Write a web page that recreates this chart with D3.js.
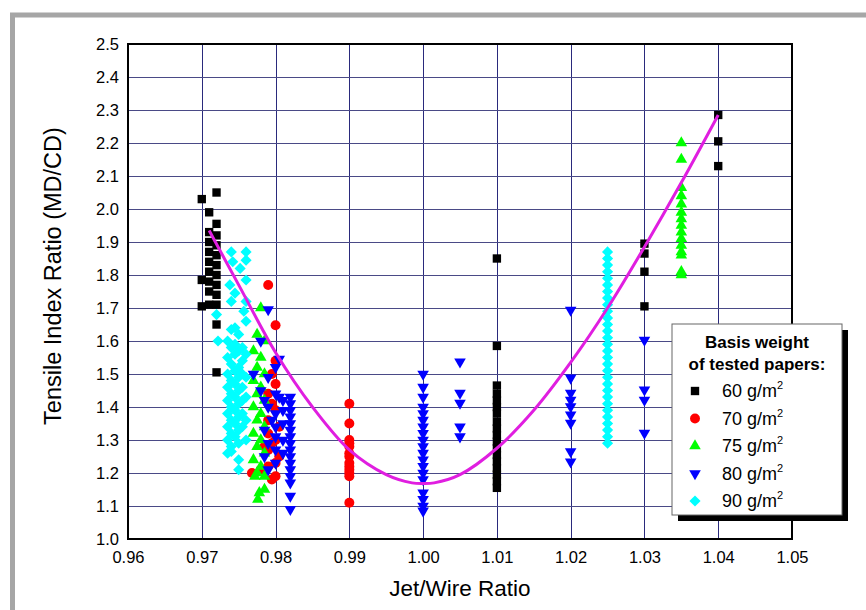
<!DOCTYPE html>
<meta charset="utf-8">
<title>Tensile Index Ratio vs Jet/Wire Ratio</title>
<style>
body { margin: 0; background: #fff; }
svg { display: block; font-family: Arial, "Liberation Sans", sans-serif; }
.grid line { shape-rendering: crispEdges; }
</style>
<svg width="866" height="610"></svg>
<script src="https://d3js.org/d3.v7.min.js"></script>
<script>
// axis ticks
var xTicks = [0.96, 0.97, 0.98, 0.99, 1.00, 1.01, 1.02, 1.03, 1.04, 1.05];
var yTicks = [1.0, 1.1, 1.2, 1.3, 1.4, 1.5, 1.6, 1.7, 1.8, 1.9, 2.0, 2.1, 2.2, 2.3, 2.4, 2.5];

// legend
var weights = ["60", "70", "75", "80", "90"];

// [jet/wire ratio, tensile index ratio]
var s60 = [
  [0.970,2.03],[0.970,1.785],[0.970,1.705],
  [0.971,1.99],[0.971,1.93],[0.971,1.90],[0.971,1.87],[0.971,1.84],[0.971,1.81],[0.971,1.78],[0.971,1.75],[0.971,1.71],
  [0.972,2.05],[0.972,1.955],[0.972,1.92],[0.972,1.89],[0.972,1.86],[0.972,1.83],[0.972,1.80],[0.972,1.77],[0.972,1.74],[0.972,1.71],[0.972,1.65],[0.972,1.505],
  [1.010,1.85],[1.010,1.585],[1.010,1.465],[1.010,1.44],[1.010,1.42],[1.010,1.40],[1.010,1.38],[1.010,1.355],[1.010,1.335],[1.010,1.315],
  [1.010,1.295],[1.010,1.275],[1.010,1.255],[1.010,1.235],[1.010,1.215],[1.010,1.195],[1.010,1.175],[1.010,1.155],
  [1.030,1.895],[1.030,1.865],[1.030,1.81],[1.030,1.705],
  [1.040,2.285],[1.040,2.205],[1.040,2.13]
];

var s70 = [
  [0.979,1.77],[0.980,1.648],[0.980,1.54],[0.9795,1.50],[0.980,1.47],[0.979,1.44],[0.9795,1.41],[0.980,1.39],[0.979,1.36],
  [0.9805,1.34],[0.979,1.32],[0.980,1.30],[0.9795,1.29],[0.979,1.27],[0.9805,1.25],[0.980,1.23],[0.979,1.22],[0.9768,1.20],
  [0.980,1.19],[0.9795,1.18],[0.978,1.21],[0.9785,1.28],
  [0.990,1.41],[0.990,1.35],[0.990,1.30],[0.990,1.29],[0.990,1.28],[0.990,1.26],[0.990,1.25],[0.990,1.23],[0.990,1.22],
  [0.990,1.21],[0.990,1.20],[0.990,1.19],[0.990,1.11]
];

var s75 = [
  [0.978,1.70],[0.9775,1.62],[0.9785,1.60],[0.977,1.57],[0.978,1.55],[0.9775,1.52],[0.9785,1.50],[0.977,1.48],[0.978,1.46],
  [0.9775,1.44],[0.9785,1.42],[0.977,1.40],[0.978,1.38],[0.9775,1.36],[0.9785,1.34],[0.977,1.32],[0.978,1.30],[0.9775,1.28],
  [0.9785,1.26],[0.977,1.24],[0.978,1.22],[0.9775,1.20],[0.9785,1.19],[0.9772,1.19],[0.9778,1.14],[0.9785,1.15],[0.9776,1.12],
  [1.035,2.20],[1.035,2.15],[1.035,2.065],[1.035,2.04],[1.035,2.015],[1.035,1.99],[1.035,1.97],[1.035,1.95],[1.035,1.93],
  [1.035,1.91],[1.035,1.89],[1.035,1.87],[1.035,1.86],[1.035,1.81],[1.035,1.80]
];

var s80 = [
  [0.979,1.695],[0.978,1.60],[0.9805,1.545],[0.980,1.52],[0.977,1.50],[0.979,1.49],[0.978,1.45],[0.980,1.44],[0.9805,1.43],
  [0.981,1.42],[0.9785,1.42],[0.979,1.40],[0.980,1.38],[0.981,1.39],[0.9795,1.36],[0.981,1.35],[0.980,1.34],[0.9785,1.33],
  [0.980,1.31],[0.981,1.30],[0.979,1.29],[0.980,1.27],[0.981,1.26],[0.9785,1.25],[0.980,1.23],[0.979,1.21],
  [0.982,1.43],[0.982,1.41],[0.982,1.39],[0.982,1.37],[0.982,1.35],[0.982,1.33],[0.982,1.31],[0.982,1.29],[0.982,1.27],
  [0.982,1.25],[0.982,1.23],[0.982,1.21],[0.982,1.19],[0.982,1.17],[0.982,1.13],[0.982,1.09],
  [1.000,1.50],[1.000,1.46],[1.000,1.43],[1.000,1.40],[1.000,1.38],[1.000,1.36],[1.000,1.34],[1.000,1.32],[1.000,1.30],
  [1.000,1.28],[1.000,1.26],[1.000,1.24],[1.000,1.22],[1.000,1.20],[1.000,1.18],[1.000,1.14],[1.000,1.12],[1.000,1.10],[1.000,1.085],
  [1.005,1.537],[1.005,1.442],[1.005,1.412],[1.005,1.34],[1.005,1.31],
  [1.020,1.694],[1.020,1.488],[1.020,1.442],[1.020,1.421],[1.020,1.401],[1.020,1.376],[1.020,1.351],[1.020,1.265],[1.020,1.234],
  [1.030,1.603],[1.030,1.452],[1.030,1.421],[1.030,1.321]
];

var s90 = [
  [0.974,1.87],[0.976,1.87],[0.9742,1.84],[0.976,1.845],[0.9752,1.82],[0.9738,1.77],[0.976,1.785],[0.9745,1.745],[0.974,1.72],
  [0.976,1.72],[0.9757,1.69],[0.972,1.68],[0.976,1.66],[0.974,1.635],[0.975,1.62],[0.9722,1.60],
  [0.9735,1.60],[0.9735,1.55],[0.9735,1.50],[0.9735,1.46],[0.9735,1.42],[0.9735,1.38],[0.9735,1.34],[0.9735,1.30],[0.9735,1.26],
  [0.974,1.58],[0.974,1.53],[0.974,1.48],[0.974,1.44],[0.974,1.40],[0.974,1.36],[0.974,1.32],[0.974,1.28],
  [0.9745,1.64],[0.9745,1.59],[0.9745,1.56],[0.9745,1.51],[0.9745,1.47],[0.9745,1.43],[0.9745,1.39],[0.9745,1.35],[0.9745,1.31],
  [0.975,1.57],[0.975,1.52],[0.975,1.49],[0.975,1.45],[0.975,1.41],[0.975,1.37],[0.975,1.33],[0.975,1.29],[0.975,1.24],
  [0.9755,1.58],[0.9755,1.54],[0.9755,1.50],[0.9755,1.46],[0.9755,1.42],[0.9755,1.38],[0.9755,1.34],
  [0.976,1.56],[0.976,1.49],[0.976,1.43],[0.976,1.36],[0.976,1.30],
  [0.974,1.265],[0.975,1.21],
  [1.025,1.87],[1.025,1.85],[1.025,1.83],[1.025,1.81],[1.025,1.79],[1.025,1.77],[1.025,1.75],[1.025,1.73],[1.025,1.71],[1.025,1.69],
  [1.025,1.67],[1.025,1.65],[1.025,1.63],[1.025,1.61],[1.025,1.59],[1.025,1.57],[1.025,1.55],[1.025,1.53],[1.025,1.51],[1.025,1.49],
  [1.025,1.47],[1.025,1.45],[1.025,1.43],[1.025,1.41],[1.025,1.39],[1.025,1.37],[1.025,1.35],[1.025,1.33],[1.025,1.31],[1.025,1.29]
];

// fitted curve
var fitCurve = [
  [0.971,1.935],[0.975,1.77],[0.980,1.565],[0.985,1.40],[0.990,1.27],[0.995,1.195],[0.9985,1.17],[1.000,1.168],
  [1.0015,1.17],[1.005,1.195],[1.010,1.275],[1.015,1.39],[1.020,1.535],[1.025,1.70],[1.030,1.885],[1.035,2.08],[1.040,2.285]
];

var svg = d3.select("svg"),
  margin = {top: 44, right: 74, bottom: 71, left: 128},
  width = +svg.attr("width") - margin.left - margin.right,
  height = +svg.attr("height") - margin.top - margin.bottom;

// grey outer frame
svg.append("rect")
  .attr("x", 12.5).attr("y", 15)
  .attr("width", 1000).attr("height", 1000)
  .attr("fill", "#fff")
  .attr("stroke", "#a6a6a6")
  .attr("stroke-width", 5);

var x = d3.scaleLinear().domain([0.96, 1.05]).range([0, width]);
var y = d3.scaleLinear().domain([1.0, 2.5]).range([height, 0]);

var g = svg.append("g").attr("transform", "translate(" + margin.left + "," + margin.top + ")");

var series = [
  {data: s60, color: "#000000", type: d3.symbolSquare, size: 70, rotate: 0},
  {data: s70, color: "#ff0000", type: d3.symbolCircle, size: 78, rotate: 0},
  {data: s75, color: "#00ff00", type: d3.symbolTriangle, size: 58, rotate: 0},
  {data: s80, color: "#0000ff", type: d3.symbolTriangle, size: 58, rotate: 180},
  {data: s90, color: "#00ffff", type: d3.symbolSquare, size: 62, rotate: 45}
];

g.append("g")
  .attr("class", "grid")
  .attr("transform", "translate(0," + height + ")")
  .call(d3.axisBottom(x).tickValues(xTicks).tickSize(-height).tickPadding(12).tickFormat(d3.format(".2f")))
  .call(function(a) {
    a.select(".domain").remove();
    a.selectAll("line").attr("stroke", "#2a2a7c");
    a.selectAll("text").attr("font-size", 16.5).attr("fill", "#000")
      .attr("font-family", "Arial, 'Liberation Sans', sans-serif");
  });

g.append("g")
  .attr("class", "grid")
  .call(d3.axisLeft(y).tickValues(yTicks).tickSize(-width).tickPadding(9).tickFormat(d3.format(".1f")))
  .call(function(a) {
    a.select(".domain").remove();
    a.selectAll("line").attr("stroke", "#4a4a86");
    a.selectAll("text").attr("font-size", 16.5).attr("fill", "#000")
      .attr("font-family", "Arial, 'Liberation Sans', sans-serif");
  });

g.append("rect")
  .attr("width", width)
  .attr("height", height)
  .attr("fill", "none")
  .attr("stroke", "#000")
  .attr("stroke-width", 2);

series.forEach(function(s) {
  g.append("g")
    .selectAll("path")
    .data(s.data)
    .enter().append("path")
      .attr("transform", function(d) { return "translate(" + x(d[0]) + "," + y(d[1]) + ") rotate(" + s.rotate + ")"; })
      .attr("d", d3.symbol().type(s.type).size(s.size))
      .attr("fill", s.color);
});

g.append("path")
  .datum(fitCurve)
  .attr("fill", "none")
  .attr("stroke", "#e01ee0")
  .attr("stroke-width", 3)
  .attr("d", d3.line()
    .x(function(d) { return x(d[0]); })
    .y(function(d) { return y(d[1]); })
    .curve(d3.curveCatmullRom));

// axis titles
svg.append("text")
  .attr("x", 460)
  .attr("y", 596)
  .attr("text-anchor", "middle")
  .attr("font-size", 22.5)
  .text("Jet/Wire Ratio");

svg.append("text")
  .attr("transform", "translate(61,276) rotate(-90)")
  .attr("text-anchor", "middle")
  .attr("font-size", 23.5)
  .text("Tensile Index Ratio (MD/CD)");

// legend
var legend = svg.append("g").attr("transform", "translate(672,324)");

legend.append("rect")
  .attr("x", 6).attr("y", 6)
  .attr("width", 170).attr("height", 191)
  .attr("fill", "#000");

legend.append("rect")
  .attr("width", 170).attr("height", 191)
  .attr("fill", "#fff")
  .attr("stroke", "#666")
  .attr("stroke-width", 1);

legend.append("text")
  .attr("x", 85).attr("y", 24)
  .attr("text-anchor", "middle")
  .attr("font-size", 17).attr("font-weight", "bold")
  .text("Basis weight");

legend.append("text")
  .attr("x", 85).attr("y", 46)
  .attr("text-anchor", "middle")
  .attr("font-size", 17).attr("font-weight", "bold")
  .text("of tested papers:");

var row = legend.selectAll("g.row")
  .data(weights)
  .enter().append("g")
    .attr("class", "row")
    .attr("transform", function(d, i) { return "translate(0," + (67 + i * 27.5) + ")"; });

row.append("path")
  .attr("transform", function(d, i) { return "translate(23,0) rotate(" + series[i].rotate + ")"; })
  .attr("d", function(d, i) { return d3.symbol().type(series[i].type).size(series[i].size)(); })
  .attr("fill", function(d, i) { return series[i].color; });

var label = row.append("text")
  .attr("x", 50)
  .attr("y", 6)
  .attr("font-size", 18);
label.append("tspan").text(function(d) { return d + " g/m"; });
label.append("tspan").attr("dy", -8).attr("font-size", 11).text("2");
</script>
